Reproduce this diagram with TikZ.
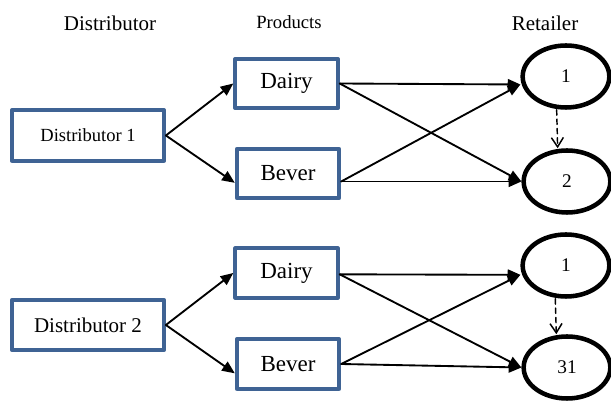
\documentclass[tikz,border=0pt]{standalone}
\usepackage{fontspec}
\setmainfont{Liberation Serif}
\usetikzlibrary{arrows.meta,shapes.geometric}
\definecolor{boxblue}{RGB}{63,99,148}
\begin{document}
\begin{tikzpicture}[x=0.75pt, y=-0.75pt, line cap=round, line join=round, >={Triangle[length=9.5pt,width=8pt]}]
	\tikzset{head style/.style={font=\fontsize{15.75}{18}\selectfont},
		dist box/.style={draw=boxblue, line width=2.8pt, inner sep=0pt, minimum width=114pt, minimum height=38pt},
		prod box/.style={draw=boxblue, line width=2.8pt, inner sep=0pt, minimum width=77pt, minimum height=37pt, font=\fontsize{17.25}{20}\selectfont},
		shop/.style={draw, ellipse, line width=3.4pt, inner sep=0pt, minimum width=65pt, minimum height=46.5pt, font=\fontsize{14.5}{16}\selectfont},
		flow/.style={->, line width=1.4pt},
		next/.style={-{Straight Barb[length=7pt,width=9pt]}, line width=1.1pt, dash pattern=on 4pt off 3pt}}
	\useasboundingbox (0,0) rectangle (611,402);
	% headings
	\node[head style] (hdist) at (110,23) {Distributor};
	\node[font=\fontsize{14}{16}\selectfont] (hprod) at (289,22) {Products};
	\node[head style] (hret) at (545,23) {Retailer};
	% first distributor
	\node[dist box, font=\fontsize{13.9}{16}\selectfont] (d1) at (88,135.5) {Distributor 1};
	\node[prod box] (dai1) at (286.5,83.5) {Dairy};
	\node[prod box] (bev1) at (288,173.5) {Bever};
	\node[shop] (r1) at (566,76.5) {1};
	\node[shop] (r2) at (567,181.5) {2};
	\coordinate (r1in) at ([yshift=-6pt]r1.west);
	\coordinate (bev1out) at ([yshift=-6pt]bev1.east);
	\draw[flow] (d1.east) -- (dai1.west);
	\draw[flow] (d1.east) -- ([yshift=-7pt]bev1.west);
	\draw[flow] (dai1.east) -- (r1in);
	\draw[flow] (dai1.east) -- (r2.west);
	\draw[flow] (bev1out) -- (r1in);
	\draw[flow] (bev1out) -- (r2.west);
	\draw[next] ([xshift=-7pt]r1.south) -- ([xshift=-7pt]r2.north);
	% second distributor
	\node[dist box, font=\fontsize{15.75}{18}\selectfont] (d2) at (88,325) {Distributor 2};
	\node[prod box] (dai2) at (286.5,273) {Dairy};
	\node[prod box] (bev2) at (288,364) {Bever};
	\node[shop] (r3) at (566,265.5) {1};
	\node[shop] (r4) at (567,367.5) {31};
	\coordinate (r3in) at ([yshift=-7pt]r3.west);
	\coordinate (dai2out) at ([yshift=-1pt]dai2.east);
	\draw[flow] (d2.east) -- (dai2.west);
	\draw[flow] (d2.east) -- ([yshift=-7pt]bev2.west);
	\draw[flow] (dai2out) -- (r3in);
	\draw[flow] (dai2out) -- (r4.west);
	\draw[flow] (bev2.east) -- (r3in);
	\draw[flow] (bev2.east) -- (r4.west);
	\draw[next] ([xshift=-8pt]r3.south) -- ([xshift=-8pt]r4.north);
\end{tikzpicture}
\end{document}
